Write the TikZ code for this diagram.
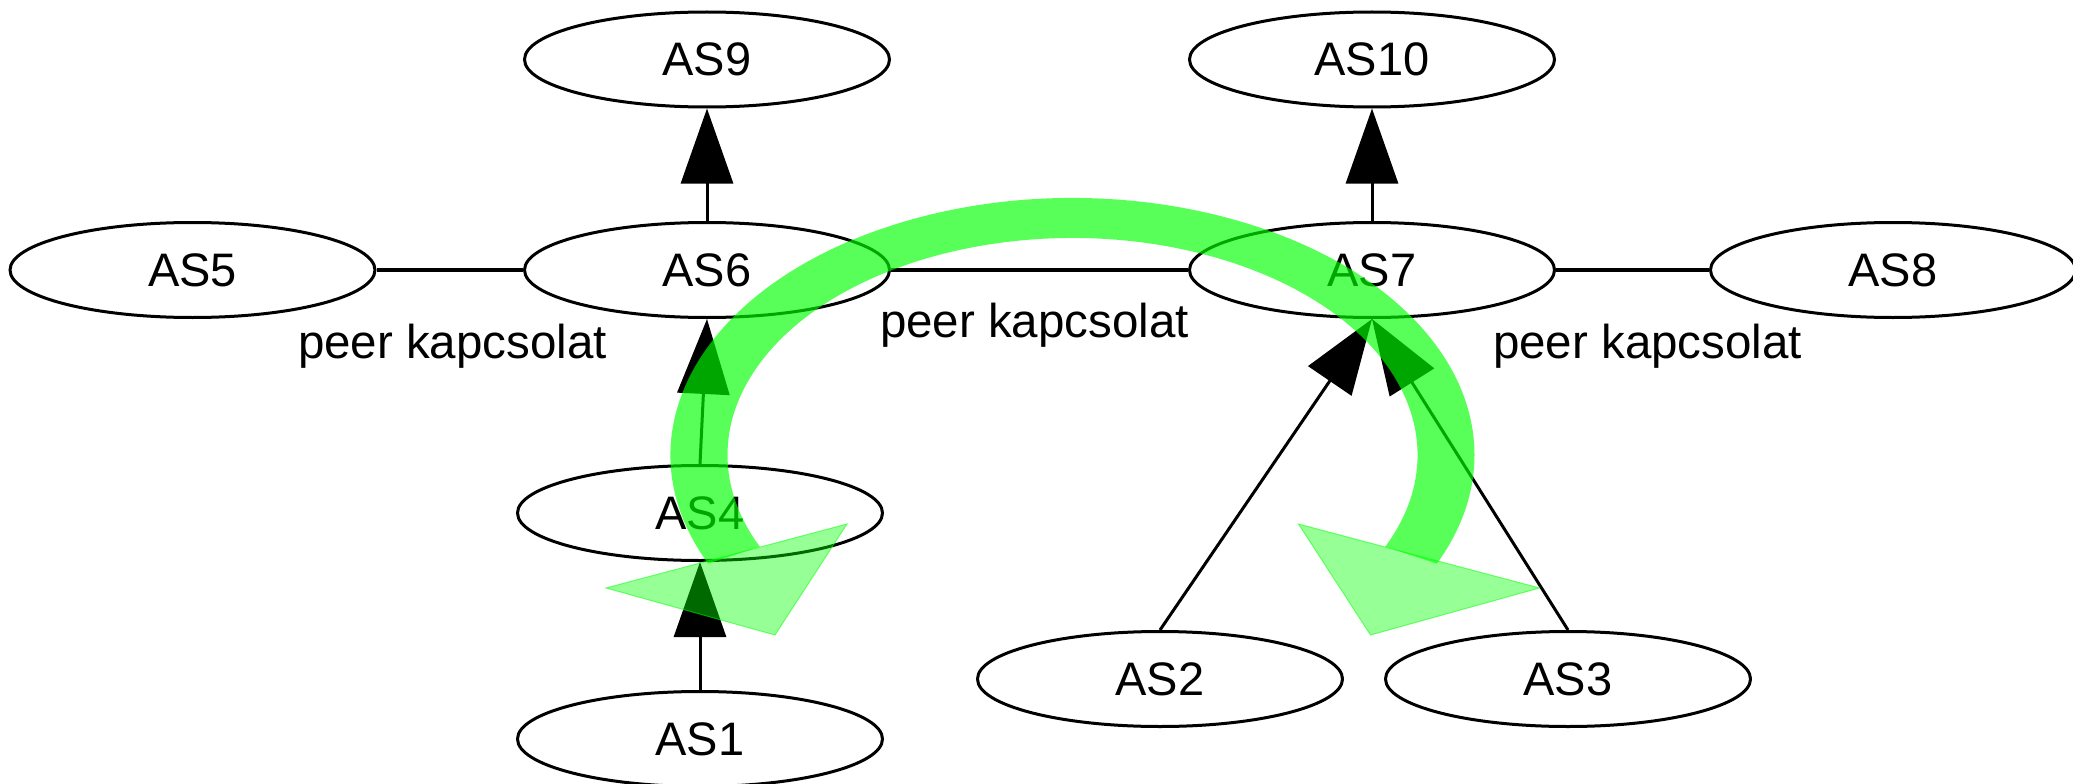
\documentclass[tikz,border=0pt]{standalone}
\usepackage{fontspec}
\setmainfont{Liberation Sans}
\usetikzlibrary{shapes.geometric,arrows.meta,calc}
\begin{document}
\begin{tikzpicture}[x=1pt,y=-1pt,
  asnode/.style={ellipse,draw=black,line width=3pt,minimum width=365pt,minimum height=95pt,inner sep=0pt,font=\fontsize{47}{56}\selectfont},
  peerline/.style={draw=black,line width=4.5pt},
  uparrow/.style={draw=black,line width=3pt,-{Triangle[length=75pt,width=52pt]}},
  peerlabel/.style={anchor=base,inner sep=0pt,font=\fontsize{47.5}{56}\selectfont},
  band/.style={fill=green,fill opacity=0.65},
  bandhead/.style={fill=green,fill opacity=0.41,draw=green,draw opacity=0.5,line width=1pt}]
\fill[white] (0,0) rectangle (2073,784);
\useasboundingbox (0,0) rectangle (2073,784);
% nodes
\node[asnode] (as9)  at (707,59.5)  {AS9};
\node[asnode] (as10) at (1372,59.5) {AS10};
\node[asnode] (as5)  at (192.5,270) {AS5};
\node[asnode] (as6)  at (707,270)   {AS6};
\node[asnode] (as7)  at (1372,270)  {AS7};
\node[asnode] (as8)  at (1893,270)  {AS8};
\node[asnode] (as4)  at (700,513)   {AS4};
\node[asnode] (as2)  at (1160,679)  {AS2};
\node[asnode] (as3)  at (1568,679)  {AS3};
\node[asnode] (as1)  at (700,739)   {AS1};
% peer links
\draw[peerline] (as5.east) -- (as6.west);
\draw[peerline] (as6.east) -- (as7.west);
\draw[peerline] (as7.east) -- (as8.west);
\node[peerlabel] (pl1) at (452.5,358) {peer kapcsolat};
\node[peerlabel] (pl2) at (1034.5,337) {peer kapcsolat};
\node[peerlabel] (pl3) at (1647.5,358) {peer kapcsolat};
% customer-provider links
\draw[uparrow] (as6.north) -- (as9.south);
\draw[uparrow] (as7.north) -- (as10.south);
\draw[uparrow] (as4.north) -- (as6.south);
\draw[uparrow] (as1.north) -- (as4.south);
\draw[uparrow] (as2.north) -- (as7.south);
\draw[uparrow] (as3.north) -- (as7.south);
% green path arrow
\coordinate (gc) at (1072.5,455);
\fill[band] ($(gc)+(155:402 and 257)$) arc[start angle=155,end angle=385,x radius=402,y radius=257]
  -- ($(gc)+(385:345 and 217)$) arc[start angle=385,end angle=155,x radius=345,y radius=217] -- cycle;
\filldraw[bandhead] (606,588) -- (847,524) -- (775,635) -- cycle;
\filldraw[bandhead] (1539.5,588) -- (1298.5,524) -- (1370.5,635) -- cycle;
\end{tikzpicture}
\end{document}
